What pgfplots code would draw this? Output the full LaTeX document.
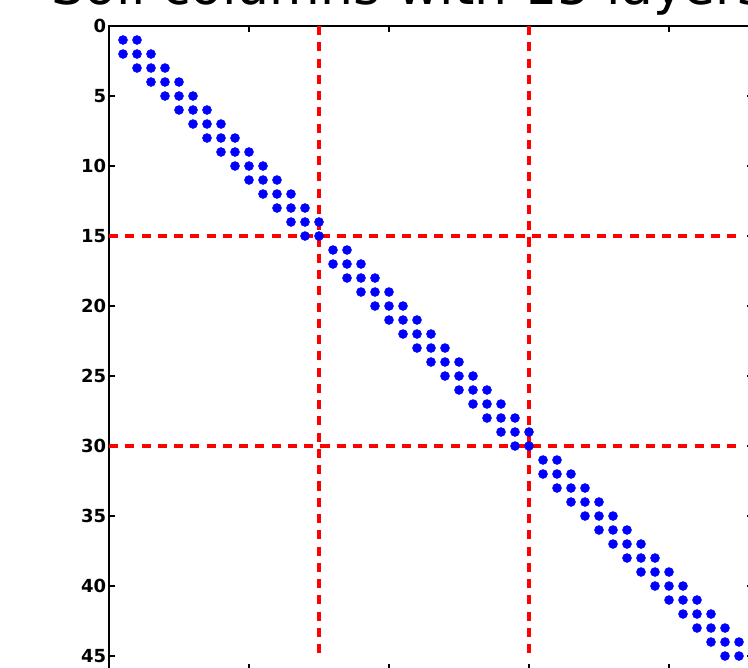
\documentclass[border=0pt]{standalone}
\usepackage{fontspec}
\setmainfont{DejaVu Sans}
\usepackage{pgfplots}
\pgfplotsset{compat=1.18}
\begin{document}
\begin{tikzpicture}
\path[use as bounding box] (-81.75pt,-480.75pt) rectangle (479.25pt,19.5pt);
\clip (-81.75pt,-480.75pt) rectangle (479.25pt,19.5pt);
\begin{axis}[
  at={(0pt,0pt)}, anchor=north west,
  scale only axis,
  width=483pt, height=483pt,
  xmin=0, xmax=46, ymin=0, ymax=46,
  y dir=reverse,
  xtick={0,10,20,30,40},
  xticklabels={},
  ytick={0,5,10,15,20,25,30,35,40,45},
  tick align=inside,
  major tick length=4.5pt,
  tick style={line width=0.8pt, black},
  axis line style={line width=1.5pt, black},
  /pgf/number format/assume math mode=true,
  ticklabel style={font=\bfseries\fontsize{13.5}{15}\selectfont, inner sep=2pt},
  title={Soil columns with 15 layers},
  title style={at={(axis description cs:0.4643,1)}, anchor=base, yshift=10.5pt, font=\fontsize{39}{45}\selectfont, inner sep=0pt},
  clip=false,
]
\addplot[only marks, mark=*, mark size=3.35pt, blue, mark options={draw=blue, fill=blue}] coordinates {
(1,1)(2,1)
(1,2)(2,2)(3,2)
(2,3)(3,3)(4,3)
(3,4)(4,4)(5,4)
(4,5)(5,5)(6,5)
(5,6)(6,6)(7,6)
(6,7)(7,7)(8,7)
(7,8)(8,8)(9,8)
(8,9)(9,9)(10,9)
(9,10)(10,10)(11,10)
(10,11)(11,11)(12,11)
(11,12)(12,12)(13,12)
(12,13)(13,13)(14,13)
(13,14)(14,14)(15,14)
(14,15)(15,15)
(16,16)(17,16)
(16,17)(17,17)(18,17)
(17,18)(18,18)(19,18)
(18,19)(19,19)(20,19)
(19,20)(20,20)(21,20)
(20,21)(21,21)(22,21)
(21,22)(22,22)(23,22)
(22,23)(23,23)(24,23)
(23,24)(24,24)(25,24)
(24,25)(25,25)(26,25)
(25,26)(26,26)(27,26)
(26,27)(27,27)(28,27)
(27,28)(28,28)(29,28)
(28,29)(29,29)(30,29)
(29,30)(30,30)
(31,31)(32,31)
(31,32)(32,32)(33,32)
(32,33)(33,33)(34,33)
(33,34)(34,34)(35,34)
(34,35)(35,35)(36,35)
(35,36)(36,36)(37,36)
(36,37)(37,37)(38,37)
(37,38)(38,38)(39,38)
(38,39)(39,39)(40,39)
(39,40)(40,40)(41,40)
(40,41)(41,41)(42,41)
(41,42)(42,42)(43,42)
(42,43)(43,43)(44,43)
(43,44)(44,44)(45,44)
(44,45)(45,45)
};
\addplot[red, line width=2.4pt, dash pattern=on 6.8pt off 5.4pt] coordinates {(15,0)(15,45)};
\addplot[red, line width=2.4pt, dash pattern=on 6.8pt off 5.4pt] coordinates {(30,0)(30,45)};
\addplot[red, line width=2.4pt, dash pattern=on 6.8pt off 5.4pt] coordinates {(0,15)(45,15)};
\addplot[red, line width=2.4pt, dash pattern=on 6.8pt off 5.4pt] coordinates {(0,30)(45,30)};
\end{axis}
\end{tikzpicture}
\end{document}
